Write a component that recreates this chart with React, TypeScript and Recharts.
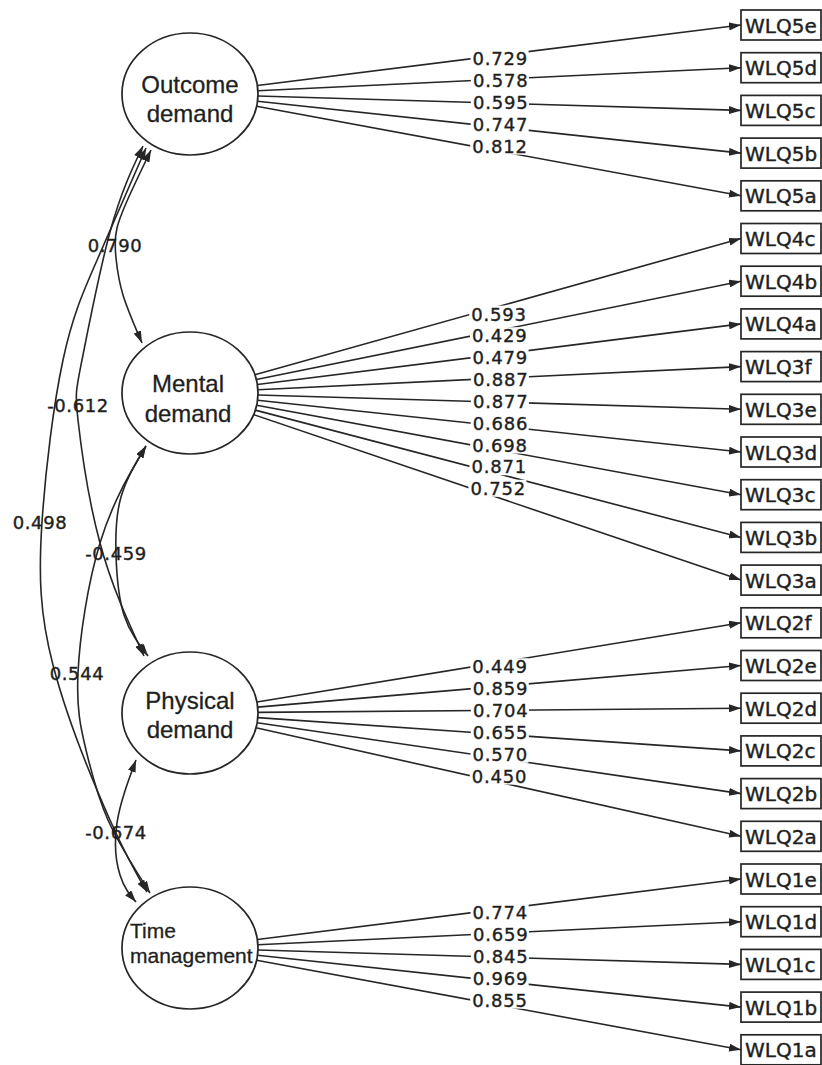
import React from 'react';
import { ScatterChart, Scatter, XAxis, YAxis } from 'recharts';

// latent factors (ellipses on the left)
const factorNames = [
  ['Outcome', 'demand'],
  ['Mental', 'demand'],
  ['Physical', 'demand'],
  ['Time', 'management'],
];
const factorY = [94, 393, 713, 948];
const factorX = 190;

// observed indicators (boxes on the right), top to bottom
const indicatorNames = [
  'WLQ5e', 'WLQ5d', 'WLQ5c', 'WLQ5b', 'WLQ5a',
  'WLQ4c', 'WLQ4b', 'WLQ4a', 'WLQ3f', 'WLQ3e', 'WLQ3d', 'WLQ3c', 'WLQ3b', 'WLQ3a',
  'WLQ2f', 'WLQ2e', 'WLQ2d', 'WLQ2c', 'WLQ2b', 'WLQ2a',
  'WLQ1e', 'WLQ1d', 'WLQ1c', 'WLQ1b', 'WLQ1a',
];

// standardized loadings, same order as the boxes
const outcomeLoadings = [0.729, 0.578, 0.595, 0.747, 0.812];
const mentalLoadings = [0.593, 0.429, 0.479, 0.887, 0.877, 0.686, 0.698, 0.871, 0.752];
const physicalLoadings = [0.449, 0.859, 0.704, 0.655, 0.570, 0.450];
const timeLoadings = [0.774, 0.659, 0.845, 0.969, 0.855];
const loadingGroups = [outcomeLoadings, mentalLoadings, physicalLoadings, timeLoadings];

// factor correlations (curved double arrows)
const corrValues = [0.790, -0.612, 0.498, -0.459, 0.544, -0.674];
const corrLabelPos = [[115, 245], [78, 405], [40, 522], [116, 553], [77, 673], [116, 832]];
const corrPaths = [
  [[151, 150], [132, 190], [117, 228], [116, 258], [123, 295], [142, 343]],
  [[143, 146], [110, 232], [82, 360], [78, 420], [100, 543], [144, 656]],
  [[146, 148], [98, 258], [63, 360], [42, 522], [53, 665], [110, 820], [147, 892]],
  [[146, 446], [121, 497], [116, 555], [124, 615], [148, 656]],
  [[146, 446], [100, 543], [78, 673], [86, 750], [108, 820], [150, 893]],
  [[136, 760], [117, 823], [120, 875], [136, 902]],
];

const W = 822;
const H = 1065;
const INK = '#262626';
const TXT = '#1f1f1f';
const RX = 68;
const RY = 61;
const BOX_LEFT = 741;
const BOX_W = 80;
const BOX_H = 30;
const ROW0 = 25;
const ROW_STEP = 42.7;
const LABEL_AT = 0.445;
const NUM_FONT = '"DejaVu Sans", Verdana, sans-serif';
const NAME_FONT = '"Liberation Sans", Arial, sans-serif';

const factorText = [
  { anchor: 'middle', x: 0, y1: -1, y2: 28, size: 24 },
  { anchor: 'middle', x: -2, y1: -1, y2: 29, size: 24 },
  { anchor: 'middle', x: 0, y1: -4, y2: 25, size: 24 },
  { anchor: 'start', x: -60, y1: -10, y2: 15, size: 21 },
];

const factorData = factorNames.map((n, i) => ({ x: factorX, y: factorY[i], idx: i }));
const boxData = indicatorNames.map((n, i) => ({ x: BOX_LEFT, y: ROW0 + i * ROW_STEP, name: n }));

type Pt = { x: number; y: number };
const loadingLines: { pts: Pt[]; label: Pt & { text: string } }[] = [];
let row = 0;
loadingGroups.forEach((vals, f) => {
  vals.forEach((v) => {
    const bx = BOX_LEFT;
    const by = ROW0 + row * ROW_STEP;
    const dx = bx - factorX;
    const dy = by - factorY[f];
    const t = 1 / Math.sqrt((dx / RX) ** 2 + (dy / RY) ** 2);
    const sx = factorX + dx * t;
    const sy = factorY[f] + dy * t;
    loadingLines.push({
      pts: [{ x: sx, y: sy }, { x: bx, y: by }],
      label: { x: sx + (bx - sx) * LABEL_AT, y: sy + (by - sy) * LABEL_AT, text: v.toFixed(3) },
    });
    row++;
  });
});

const corrLabels = corrValues.map((v, i) => ({ x: corrLabelPos[i][0], y: corrLabelPos[i][1], text: v.toFixed(3) }));

const Nothing = () => <g />;

const FactorShape = (p: any) => {
  const s = factorText[p.payload.idx];
  const [l1, l2] = factorNames[p.payload.idx];
  return (
    <g>
      <ellipse cx={p.cx} cy={p.cy} rx={RX} ry={RY} fill="#fff" stroke={INK} strokeWidth={1.7} />
      <text x={p.cx + s.x} y={p.cy + s.y1} textAnchor={s.anchor} fontFamily={NAME_FONT} fontSize={s.size}
        fill={TXT} stroke={TXT} strokeWidth={0.3}>{l1}</text>
      <text x={p.cx + s.x} y={p.cy + s.y2} textAnchor={s.anchor} fontFamily={NAME_FONT} fontSize={s.size}
        fill={TXT} stroke={TXT} strokeWidth={0.3}>{l2}</text>
    </g>
  );
};

const BoxShape = (p: any) => (
  <g>
    <rect x={p.cx} y={p.cy - BOX_H / 2} width={BOX_W} height={BOX_H} fill="#fff" stroke={INK} strokeWidth={1.7} />
    <text x={p.cx + 4} y={p.cy + 7.5} fontFamily={NUM_FONT} fontSize={20} fill={TXT} stroke={TXT} strokeWidth={0.4}>
      {p.payload.name}
    </text>
  </g>
);

const LoadingLabel = (p: any) => (
  <g>
    <rect x={p.cx - 2} y={p.cy - 8.5} width={58} height={17} fill="#fff" />
    <text x={p.cx} y={p.cy + 6.5} fontFamily={NUM_FONT} fontSize={18} letterSpacing={0.8}
      fill={TXT} stroke={TXT} strokeWidth={0.4}>{p.payload.text}</text>
  </g>
);

const CorrLabel = (p: any) => (
  <text x={p.cx} y={p.cy + 6.5} textAnchor="middle" fontFamily={NUM_FONT} fontSize={18} letterSpacing={0.6}
    fill={TXT} stroke={TXT} strokeWidth={0.4}>
    {p.payload.text}
  </text>
);

export default function App() {
  return (
    <div style={{ position: 'absolute', left: 0, top: 0, width: W, height: H, background: '#fff' }}>
      <svg width={0} height={0} style={{ position: 'absolute' }}>
        <defs>
          <marker id="arrow" viewBox="0 0 12 8" refX={12} refY={4} markerWidth={12} markerHeight={8}
            markerUnits="userSpaceOnUse" orient="auto-start-reverse">
            <path d="M0,0 L12,4 L0,8 Z" fill={INK} />
          </marker>
        </defs>
      </svg>
      <ScatterChart width={W} height={H} margin={{ top: 0, right: 0, bottom: 0, left: 0 }}>
        <XAxis type="number" dataKey="x" domain={[0, W]} allowDataOverflow hide />
        <YAxis type="number" dataKey="y" domain={[0, H]} allowDataOverflow reversed hide />
        {corrPaths.map((path, i) => (
          <Scatter
            key={`c${i}`}
            data={path.map(([x, y]) => ({ x, y }))}
            line={{ stroke: INK, strokeWidth: 1.6, markerStart: 'url(#arrow)', markerEnd: 'url(#arrow)' }}
            lineJointType="natural"
            shape={Nothing}
            isAnimationActive={false}
          />
        ))}
        {loadingLines.map((l, i) => (
          <Scatter
            key={`l${i}`}
            data={l.pts}
            line={{ stroke: INK, strokeWidth: 1.6, markerEnd: 'url(#arrow)' }}
            shape={Nothing}
            isAnimationActive={false}
          />
        ))}
        <Scatter data={loadingLines.map((l) => l.label)} shape={LoadingLabel} isAnimationActive={false} />
        <Scatter data={factorData} shape={FactorShape} isAnimationActive={false} />
        <Scatter data={boxData} shape={BoxShape} isAnimationActive={false} />
        <Scatter data={corrLabels} shape={CorrLabel} isAnimationActive={false} />
      </ScatterChart>
    </div>
  );
}
